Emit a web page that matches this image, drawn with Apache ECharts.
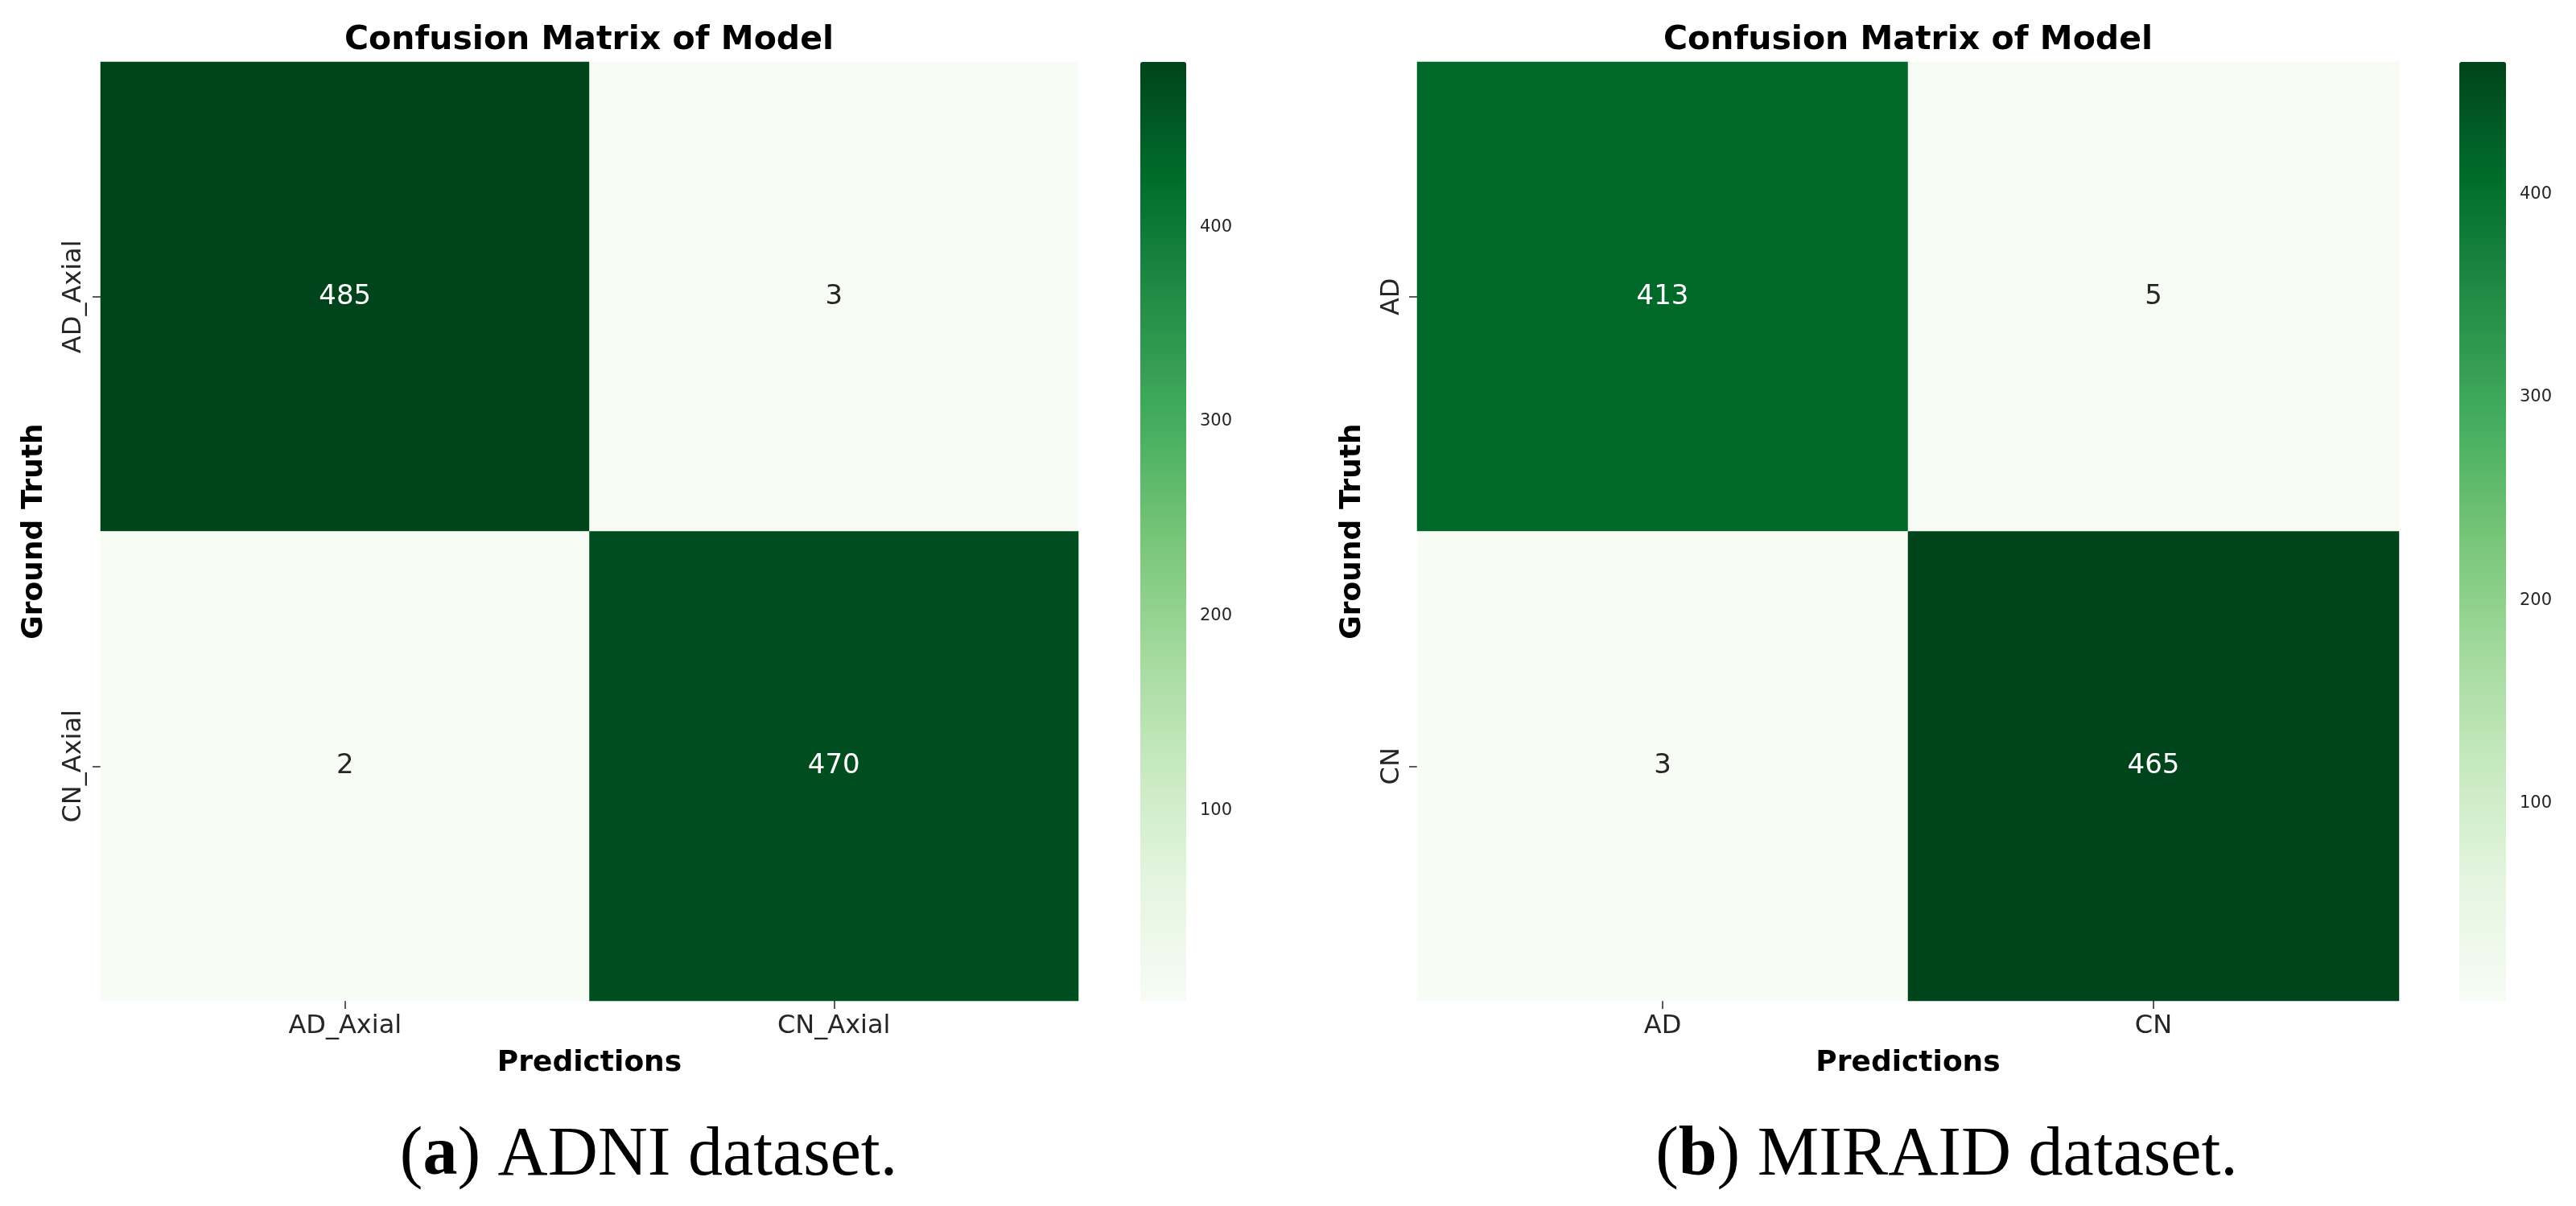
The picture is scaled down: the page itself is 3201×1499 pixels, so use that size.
<!DOCTYPE html>
<html><head><meta charset="utf-8">
<script src="https://cdn.jsdelivr.net/npm/echarts@6/dist/echarts.min.js"></script>
<style>html,body{margin:0;padding:0;background:#fff}#c{width:3201px;height:1499px}</style>
</head><body><div id="c"></div>
<script>
// ---- data ----
const adniLabels = ['AD_Axial', 'CN_Axial'];
const miraidLabels = ['AD', 'CN'];
// rows = ground truth, columns = predictions
const adniMatrix = [[485, 3], [2, 470]];
const miraidMatrix = [[413, 5], [3, 465]];
const colorbarTicks = [100, 200, 300, 400];
const chartTitle = 'Confusion Matrix of Model';
const xName = 'Predictions';
const yName = 'Ground Truth';
const captionA = ['a', ' ADNI dataset.'];
const captionB = ['b', ' MIRAID dataset.'];
const greens = ['#f7fcf5', '#e5f5e0', '#c7e9c0', '#a1d99b', '#74c476', '#41ab5d', '#238b45', '#006d2c', '#00441b'];

// ---- layout ----
const panels = [
  { labels: adniLabels, matrix: adniMatrix, caption: captionA,
    grid: { left: 125, top: 77, width: 1215, height: 1167 },
    bar: { left: 1417, width: 57 }, titleX: 732, captionX: 806, yNameGap: 64, yMargin: 17 },
  { labels: miraidLabels, matrix: miraidMatrix, caption: captionB,
    grid: { left: 1761, top: 77, width: 1220, height: 1167 },
    bar: { left: 3056, width: 58 }, titleX: 2371, captionX: 2419, yNameGap: 62, yMargin: 15 }
];

const FONT = 'DejaVu Sans';
const DARK = '#262626';
const option = {
  animation: false,
  textStyle: { fontFamily: FONT },
  grid: [], xAxis: [], yAxis: [], series: [], visualMap: [], graphic: []
};

panels.forEach((p, i) => {
  const flat = p.matrix.flat();
  const vmin = Math.min(...flat), vmax = Math.max(...flat);
  const data = [];
  p.matrix.forEach((row, r) => row.forEach((v, c) => {
    const t = (v - vmin) / (vmax - vmin);
    data.push({ value: [c, r, v], label: { color: t > 0.5 ? '#ffffff' : DARK } });
  }));
  const gHeat = i * 2, gBar = i * 2 + 1;
  option.grid.push(Object.assign({ containLabel: false }, p.grid));
  option.grid.push({ left: p.bar.left, width: p.bar.width, top: p.grid.top, height: p.grid.height });

  option.xAxis.push({
    type: 'category', gridIndex: gHeat, data: p.labels, position: 'bottom',
    axisLine: { show: false },
    axisTick: { show: true, alignWithLabel: true, length: 10, lineStyle: { color: DARK, width: 1.5 } },
    axisLabel: { fontSize: 32, color: DARK, margin: 16, fontFamily: FONT },
    splitLine: { show: false }, splitArea: { show: false },
    name: xName, nameLocation: 'middle', nameGap: 60,
    nameTextStyle: { fontWeight: 'bold', fontSize: 36, color: '#000', fontFamily: FONT }
  });
  option.xAxis.push({ type: 'value', gridIndex: gBar, show: false, min: 0, max: 1 });

  option.yAxis.push({
    type: 'category', gridIndex: gHeat, data: p.labels, inverse: true,
    axisLine: { show: false },
    axisTick: { show: true, alignWithLabel: true, length: 10, lineStyle: { color: DARK, width: 1.5 } },
    axisLabel: { fontSize: 32, color: DARK, margin: p.yMargin, rotate: 90, fontFamily: FONT },
    splitLine: { show: false }, splitArea: { show: false },
    name: yName, nameLocation: 'middle', nameGap: p.yNameGap,
    nameTextStyle: { fontWeight: 'bold', fontSize: 36, color: '#000', fontFamily: FONT }
  });
  option.yAxis.push({
    type: 'value', gridIndex: gBar, min: vmin, max: vmax, position: 'right',
    axisLine: { show: false }, splitLine: { show: false },
    axisTick: { show: true, customValues: colorbarTicks, length: 8, lineStyle: { color: DARK, width: 1.5 } },
    axisLabel: { customValues: colorbarTicks, fontSize: 21, color: DARK, margin: 17, fontFamily: FONT }
  });

  option.series.push({
    type: 'heatmap', xAxisIndex: gHeat, yAxisIndex: gHeat, data: data,
    label: { show: true, fontSize: 34, fontFamily: FONT },
    itemStyle: { borderWidth: 0 },
    emphasis: { disabled: true }
  });

  option.visualMap.push({
    type: 'continuous', seriesIndex: i, min: vmin, max: vmax,
    inRange: { color: greens }, calculable: false, hoverLink: false,
    left: p.bar.left, top: p.grid.top, itemWidth: p.bar.width, itemHeight: p.grid.height,
    padding: 0, text: null, showLabel: false
  });

  option.graphic.push({
    type: 'text', left: null, x: p.titleX, y: 50,
    style: { text: chartTitle, font: 'bold 41px "' + FONT + '"', fill: '#000', align: 'center', verticalAlign: 'middle' }
  });
  option.graphic.push({
    type: 'text', x: p.captionX, y: 1437,
    style: {
      text: '(' + '{b|' + p.caption[0] + '}' + ')' + p.caption[1],
      font: '86px "Liberation Serif"', fill: '#000', align: 'center', verticalAlign: 'middle',
      rich: { b: { font: 'bold 86px "Liberation Serif"', fill: '#000' } }
    }
  });
});

const chart = echarts.init(document.getElementById('c'));
chart.setOption(option);
</script>
</body></html>
